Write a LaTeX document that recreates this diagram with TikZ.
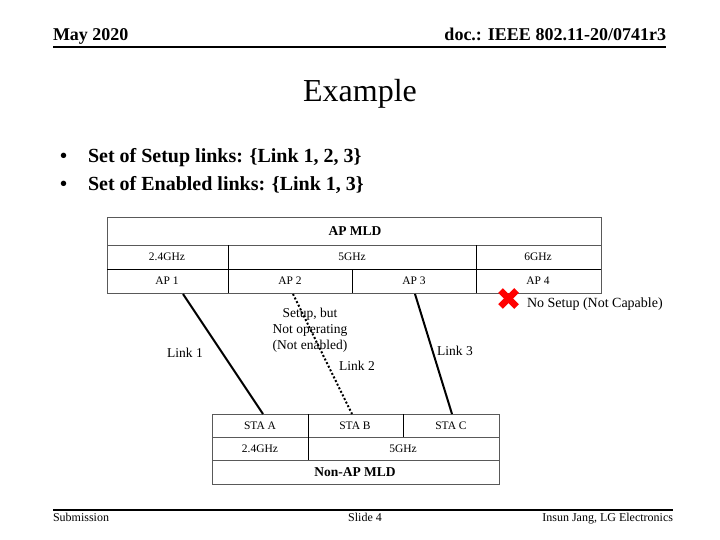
\documentclass[tikz,border=0pt]{standalone}
\usepackage{fontspec}
\setmainfont{Liberation Serif}
\begin{document}
\begin{tikzpicture}[x=1pt,y=-1pt,
  every node/.style={inner sep=0pt,outer sep=0pt},
  hdr/.style={font=\fontsize{18}{20}\selectfont\bfseries},
  foot/.style={font=\fontsize{12}{14}\selectfont},
  bul/.style={font=\fontsize{20}{24}\selectfont\bfseries,anchor=base west},
  cell/.style={font=\fontsize{11.5}{13}\selectfont},
  cellb/.style={font=\fontsize{13.5}{15}\selectfont\bfseries},
  lbl/.style={font=\fontsize{13.5}{16}\selectfont},
  grid/.style={draw=gray!70!black,line width=0.8pt},
  gridk/.style={draw=black,line width=1pt},
  link/.style={draw=black,line width=2pt},
  dlink/.style={draw=black,line width=2pt,dash pattern=on 2pt off 2pt}
]
\useasboundingbox (0,0) rectangle (720,540);
\fill[white] (0,0) rectangle (720,540);

% header
\node[hdr,anchor=base west] (date) at (53,41) {May 2020};
\node[hdr,anchor=base east] (doc) at (666,41) {doc.: IEEE 802.11-20/0741r3};
\coordinate (hl) at (53,47); \coordinate (hr) at (666,47);
\draw[line width=2pt] (hl) -- (hr);

% title
\node[font=\fontsize{32}{36}\selectfont,anchor=base] (title) at (360,102) {Example};

% bullets
\node[bul] (b1d) at (60,163) {•};
\node[bul] (b1) at (88,163) {Set of Setup links: \{Link 1, 2, 3\}};
\node[bul] (b2d) at (60,191) {•};
\node[bul] (b2) at (88,191) {Set of Enabled links: \{Link 1, 3\}};

% top table
\draw[grid] (107,217) rectangle (601,293);
\draw[grid] (107,245) -- (601,245);
\draw[gridk] (107,269) -- (601,269);
\draw[gridk] (228,245) -- (228,293);
\draw[gridk] (476,245) -- (476,293);
\draw[gridk] (352,269) -- (352,293);
\node[cellb] (apmld) at (355,231) {AP MLD};
\node[cell] (f24) at (167,257) {2.4GHz};
\node[cell] (f5) at (352,257) {5GHz};
\node[cell] (f6) at (538,257) {6GHz};
\node[cell] (ap1) at (167,281) {AP 1};
\node[cell] (ap2) at (290,281) {AP 2};
\node[cell] (ap3) at (414,281) {AP 3};
\node[cell] (ap4) at (538,281) {AP 4};

% bottom table
\draw[grid] (212,414) rectangle (499,484);
\draw[grid] (212,437) -- (499,437);
\draw[grid] (212,460) -- (499,460);
\draw[gridk] (308,414) -- (308,460);
\draw[gridk] (403,414) -- (403,437);
\node[cell] (staa) at (260,425.5) {STA A};
\node[cell] (stab) at (355,425.5) {STA B};
\node[cell] (stac) at (451,425.5) {STA C};
\node[cell] (g24) at (260,448.5) {2.4GHz};
\node[cell] (g5) at (403,448.5) {5GHz};
\node[cellb] (nonap) at (355,472) {Non-AP MLD};

% links
\coordinate (l1a) at (183,294); \coordinate (l1b) at (263,414);
\coordinate (l2a) at (293,294); \coordinate (l2b) at (352,414);
\coordinate (l3a) at (415,294); \coordinate (l3b) at (452,414);
\draw[link] (l1a) -- (l1b);
\draw[dlink] (l2a) -- (l2b);
\draw[link] (l3a) -- (l3b);

\node[lbl] (link1) at (185,353) {Link 1};
\node[lbl,align=center] (setup) at (310,330) {Setup, but\\Not operating\\(Not enabled)};
\node[lbl] (link2) at (357,366) {Link 2};
\node[lbl] (link3) at (455,351) {Link 3};

% red X
\coordinate (xc) at (508.5,298.5);
\draw[red,line width=6.5pt] ([shift={(-8,-8)}]xc) -- ([shift={(8,8)}]xc);
\draw[red,line width=6.5pt] ([shift={(-8,8)}]xc) -- ([shift={(8,-8)}]xc);
\node[font=\fontsize{14}{16}\selectfont,anchor=west] (nosetup) at (527,304) {No Setup (Not Capable)};

% footer
\coordinate (fl) at (53,510); \coordinate (fr) at (673,510);
\draw[line width=2pt] (fl) -- (fr);
\node[foot,anchor=base west] (sub) at (53,521) {Submission};
\node[foot,anchor=base] (slide) at (365,521) {Slide 4};
\node[foot,anchor=base east] (auth) at (673,521) {Insun Jang, LG Electronics};
\end{tikzpicture}
\end{document}
